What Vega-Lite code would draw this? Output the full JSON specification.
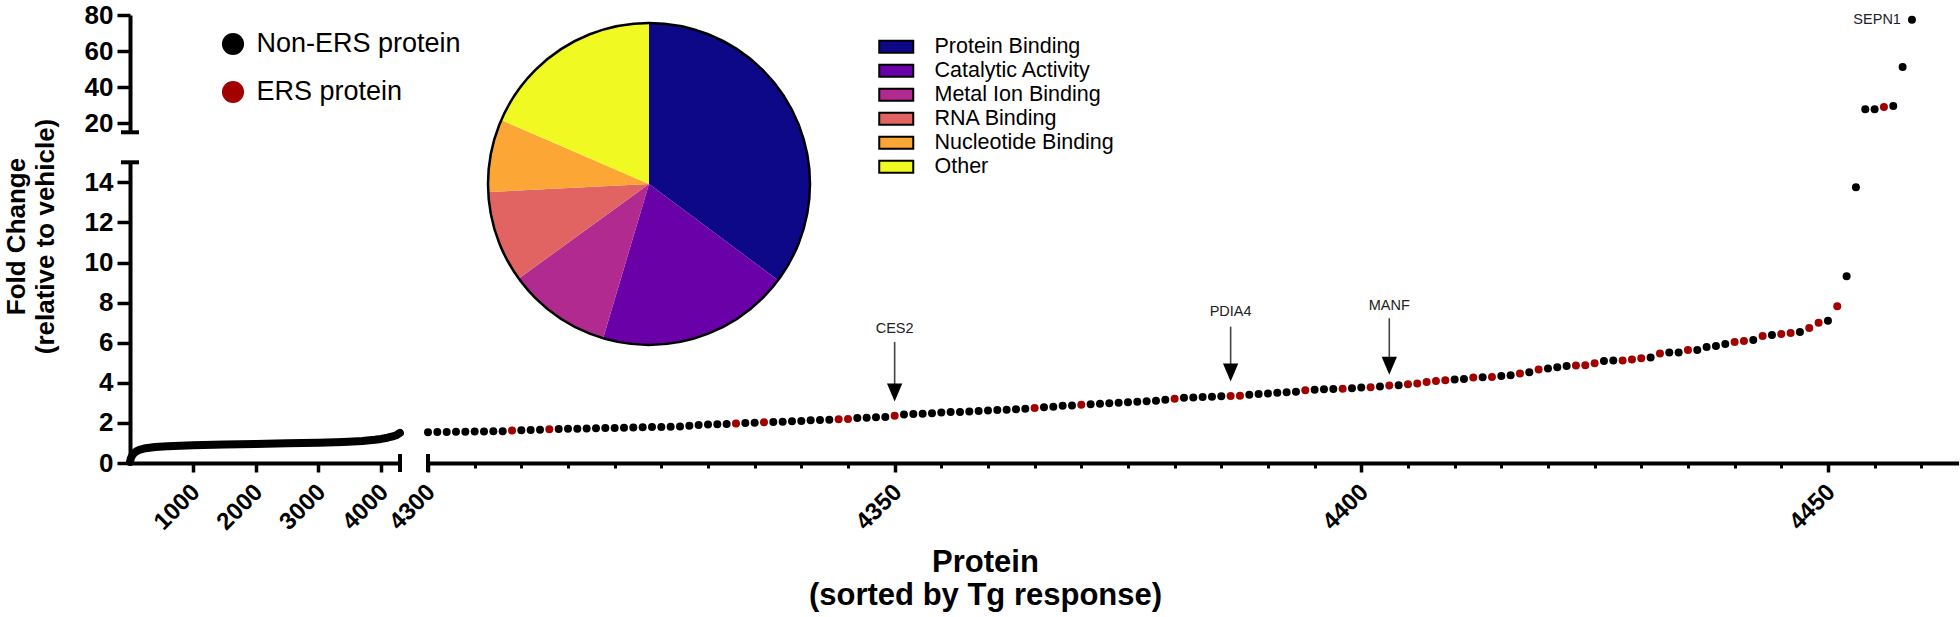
{
  "$schema": "https://vega.github.io/schema/vega-lite/v6.json",
  "width": 1828,
  "height": 453,
  "autosize": {"type": "none"},
  "padding": {"left": 130, "top": 10, "right": 2, "bottom": 154},
  "config": {
    "view": {"stroke": null},
    "font": "Liberation Sans",
    "axis": {
      "grid": false,
      "labelFont": "Liberation Sans",
      "labelFontWeight": "bold",
      "labelFontSize": 26,
      "labelColor": "black",
      "tickColor": "black",
      "domainColor": "black",
      "domainWidth": 4,
      "tickWidth": 3.5,
      "titleFont": "Liberation Sans",
      "titleFontWeight": "bold",
      "titleFontSize": 28,
      "titleColor": "black"
    },
    "legend": {"labelFont": "Liberation Sans", "labelColor": "black", "labelLimit": 0}
  },
  "datasets": {
    "curve": [
      {"idx": 0, "fc": 0.05}, {"idx": 10, "fc": 0.2}, {"idx": 30, "fc": 0.35}, {"idx": 60, "fc": 0.48},
      {"idx": 100, "fc": 0.58}, {"idx": 150, "fc": 0.66}, {"idx": 250, "fc": 0.74}, {"idx": 400, "fc": 0.8},
      {"idx": 600, "fc": 0.84}, {"idx": 1000, "fc": 0.88}, {"idx": 1500, "fc": 0.92}, {"idx": 2000, "fc": 0.95},
      {"idx": 2500, "fc": 0.98}, {"idx": 3000, "fc": 1.01}, {"idx": 3400, "fc": 1.05}, {"idx": 3700, "fc": 1.1},
      {"idx": 3900, "fc": 1.16}, {"idx": 4000, "fc": 1.2}, {"idx": 4100, "fc": 1.26}, {"idx": 4200, "fc": 1.34},
      {"idx": 4250, "fc": 1.4}, {"idx": 4299, "fc": 1.5}
    ],
    "dots": [
      {"idx": 4300, "fc": 1.54, "type": "Non-ERS protein"},
      {"idx": 4301, "fc": 1.55, "type": "Non-ERS protein"},
      {"idx": 4302, "fc": 1.55, "type": "Non-ERS protein"},
      {"idx": 4303, "fc": 1.56, "type": "Non-ERS protein"},
      {"idx": 4304, "fc": 1.56, "type": "Non-ERS protein"},
      {"idx": 4305, "fc": 1.57, "type": "Non-ERS protein"},
      {"idx": 4306, "fc": 1.57, "type": "Non-ERS protein"},
      {"idx": 4307, "fc": 1.58, "type": "Non-ERS protein"},
      {"idx": 4308, "fc": 1.59, "type": "Non-ERS protein"},
      {"idx": 4309, "fc": 1.62, "type": "ERS protein"},
      {"idx": 4310, "fc": 1.63, "type": "Non-ERS protein"},
      {"idx": 4311, "fc": 1.64, "type": "Non-ERS protein"},
      {"idx": 4312, "fc": 1.66, "type": "Non-ERS protein"},
      {"idx": 4313, "fc": 1.68, "type": "ERS protein"},
      {"idx": 4314, "fc": 1.70, "type": "Non-ERS protein"},
      {"idx": 4315, "fc": 1.71, "type": "Non-ERS protein"},
      {"idx": 4316, "fc": 1.71, "type": "Non-ERS protein"},
      {"idx": 4317, "fc": 1.72, "type": "Non-ERS protein"},
      {"idx": 4318, "fc": 1.73, "type": "Non-ERS protein"},
      {"idx": 4319, "fc": 1.74, "type": "Non-ERS protein"},
      {"idx": 4320, "fc": 1.75, "type": "Non-ERS protein"},
      {"idx": 4321, "fc": 1.76, "type": "Non-ERS protein"},
      {"idx": 4322, "fc": 1.77, "type": "Non-ERS protein"},
      {"idx": 4323, "fc": 1.78, "type": "Non-ERS protein"},
      {"idx": 4324, "fc": 1.79, "type": "Non-ERS protein"},
      {"idx": 4325, "fc": 1.80, "type": "Non-ERS protein"},
      {"idx": 4326, "fc": 1.81, "type": "Non-ERS protein"},
      {"idx": 4327, "fc": 1.82, "type": "Non-ERS protein"},
      {"idx": 4328, "fc": 1.86, "type": "Non-ERS protein"},
      {"idx": 4329, "fc": 1.90, "type": "Non-ERS protein"},
      {"idx": 4330, "fc": 1.92, "type": "Non-ERS protein"},
      {"idx": 4331, "fc": 1.93, "type": "Non-ERS protein"},
      {"idx": 4332, "fc": 1.94, "type": "Non-ERS protein"},
      {"idx": 4333, "fc": 1.97, "type": "ERS protein"},
      {"idx": 4334, "fc": 2.00, "type": "Non-ERS protein"},
      {"idx": 4335, "fc": 2.01, "type": "Non-ERS protein"},
      {"idx": 4336, "fc": 2.03, "type": "ERS protein"},
      {"idx": 4337, "fc": 2.05, "type": "Non-ERS protein"},
      {"idx": 4338, "fc": 2.06, "type": "Non-ERS protein"},
      {"idx": 4339, "fc": 2.08, "type": "Non-ERS protein"},
      {"idx": 4340, "fc": 2.10, "type": "Non-ERS protein"},
      {"idx": 4341, "fc": 2.13, "type": "Non-ERS protein"},
      {"idx": 4342, "fc": 2.15, "type": "Non-ERS protein"},
      {"idx": 4343, "fc": 2.16, "type": "Non-ERS protein"},
      {"idx": 4344, "fc": 2.18, "type": "ERS protein"},
      {"idx": 4345, "fc": 2.20, "type": "ERS protein"},
      {"idx": 4346, "fc": 2.24, "type": "Non-ERS protein"},
      {"idx": 4347, "fc": 2.26, "type": "Non-ERS protein"},
      {"idx": 4348, "fc": 2.28, "type": "Non-ERS protein"},
      {"idx": 4349, "fc": 2.30, "type": "Non-ERS protein"},
      {"idx": 4350, "fc": 2.36, "type": "ERS protein"},
      {"idx": 4351, "fc": 2.42, "type": "Non-ERS protein"},
      {"idx": 4352, "fc": 2.44, "type": "Non-ERS protein"},
      {"idx": 4353, "fc": 2.46, "type": "Non-ERS protein"},
      {"idx": 4354, "fc": 2.48, "type": "Non-ERS protein"},
      {"idx": 4355, "fc": 2.52, "type": "Non-ERS protein"},
      {"idx": 4356, "fc": 2.54, "type": "Non-ERS protein"},
      {"idx": 4357, "fc": 2.55, "type": "Non-ERS protein"},
      {"idx": 4358, "fc": 2.57, "type": "Non-ERS protein"},
      {"idx": 4359, "fc": 2.60, "type": "Non-ERS protein"},
      {"idx": 4360, "fc": 2.62, "type": "Non-ERS protein"},
      {"idx": 4361, "fc": 2.64, "type": "Non-ERS protein"},
      {"idx": 4362, "fc": 2.66, "type": "Non-ERS protein"},
      {"idx": 4363, "fc": 2.68, "type": "Non-ERS protein"},
      {"idx": 4364, "fc": 2.70, "type": "Non-ERS protein"},
      {"idx": 4365, "fc": 2.74, "type": "ERS protein"},
      {"idx": 4366, "fc": 2.78, "type": "Non-ERS protein"},
      {"idx": 4367, "fc": 2.80, "type": "Non-ERS protein"},
      {"idx": 4368, "fc": 2.85, "type": "Non-ERS protein"},
      {"idx": 4369, "fc": 2.87, "type": "Non-ERS protein"},
      {"idx": 4370, "fc": 2.90, "type": "ERS protein"},
      {"idx": 4371, "fc": 2.93, "type": "Non-ERS protein"},
      {"idx": 4372, "fc": 2.96, "type": "Non-ERS protein"},
      {"idx": 4373, "fc": 2.98, "type": "Non-ERS protein"},
      {"idx": 4374, "fc": 3.00, "type": "Non-ERS protein"},
      {"idx": 4375, "fc": 3.03, "type": "Non-ERS protein"},
      {"idx": 4376, "fc": 3.05, "type": "Non-ERS protein"},
      {"idx": 4377, "fc": 3.08, "type": "Non-ERS protein"},
      {"idx": 4378, "fc": 3.11, "type": "Non-ERS protein"},
      {"idx": 4379, "fc": 3.15, "type": "Non-ERS protein"},
      {"idx": 4380, "fc": 3.21, "type": "ERS protein"},
      {"idx": 4381, "fc": 3.25, "type": "Non-ERS protein"},
      {"idx": 4382, "fc": 3.27, "type": "Non-ERS protein"},
      {"idx": 4383, "fc": 3.29, "type": "Non-ERS protein"},
      {"idx": 4384, "fc": 3.31, "type": "Non-ERS protein"},
      {"idx": 4385, "fc": 3.33, "type": "Non-ERS protein"},
      {"idx": 4386, "fc": 3.34, "type": "ERS protein"},
      {"idx": 4387, "fc": 3.35, "type": "ERS protein"},
      {"idx": 4388, "fc": 3.41, "type": "Non-ERS protein"},
      {"idx": 4389, "fc": 3.44, "type": "Non-ERS protein"},
      {"idx": 4390, "fc": 3.47, "type": "Non-ERS protein"},
      {"idx": 4391, "fc": 3.50, "type": "Non-ERS protein"},
      {"idx": 4392, "fc": 3.53, "type": "Non-ERS protein"},
      {"idx": 4393, "fc": 3.56, "type": "Non-ERS protein"},
      {"idx": 4394, "fc": 3.63, "type": "ERS protein"},
      {"idx": 4395, "fc": 3.66, "type": "Non-ERS protein"},
      {"idx": 4396, "fc": 3.68, "type": "Non-ERS protein"},
      {"idx": 4397, "fc": 3.69, "type": "Non-ERS protein"},
      {"idx": 4398, "fc": 3.70, "type": "ERS protein"},
      {"idx": 4399, "fc": 3.73, "type": "Non-ERS protein"},
      {"idx": 4400, "fc": 3.76, "type": "Non-ERS protein"},
      {"idx": 4401, "fc": 3.78, "type": "ERS protein"},
      {"idx": 4402, "fc": 3.81, "type": "Non-ERS protein"},
      {"idx": 4403, "fc": 3.86, "type": "ERS protein"},
      {"idx": 4404, "fc": 3.88, "type": "Non-ERS protein"},
      {"idx": 4405, "fc": 3.93, "type": "ERS protein"},
      {"idx": 4406, "fc": 3.96, "type": "ERS protein"},
      {"idx": 4407, "fc": 4.04, "type": "ERS protein"},
      {"idx": 4408, "fc": 4.09, "type": "ERS protein"},
      {"idx": 4409, "fc": 4.13, "type": "ERS protein"},
      {"idx": 4410, "fc": 4.16, "type": "Non-ERS protein"},
      {"idx": 4411, "fc": 4.19, "type": "Non-ERS protein"},
      {"idx": 4412, "fc": 4.26, "type": "ERS protein"},
      {"idx": 4413, "fc": 4.28, "type": "Non-ERS protein"},
      {"idx": 4414, "fc": 4.29, "type": "ERS protein"},
      {"idx": 4415, "fc": 4.34, "type": "Non-ERS protein"},
      {"idx": 4416, "fc": 4.38, "type": "Non-ERS protein"},
      {"idx": 4417, "fc": 4.46, "type": "ERS protein"},
      {"idx": 4418, "fc": 4.53, "type": "Non-ERS protein"},
      {"idx": 4419, "fc": 4.66, "type": "ERS protein"},
      {"idx": 4420, "fc": 4.71, "type": "Non-ERS protein"},
      {"idx": 4421, "fc": 4.78, "type": "Non-ERS protein"},
      {"idx": 4422, "fc": 4.84, "type": "Non-ERS protein"},
      {"idx": 4423, "fc": 4.86, "type": "ERS protein"},
      {"idx": 4424, "fc": 4.88, "type": "ERS protein"},
      {"idx": 4425, "fc": 4.98, "type": "ERS protein"},
      {"idx": 4426, "fc": 5.09, "type": "Non-ERS protein"},
      {"idx": 4427, "fc": 5.11, "type": "Non-ERS protein"},
      {"idx": 4428, "fc": 5.11, "type": "ERS protein"},
      {"idx": 4429, "fc": 5.16, "type": "ERS protein"},
      {"idx": 4430, "fc": 5.23, "type": "ERS protein"},
      {"idx": 4431, "fc": 5.26, "type": "Non-ERS protein"},
      {"idx": 4432, "fc": 5.46, "type": "ERS protein"},
      {"idx": 4433, "fc": 5.51, "type": "Non-ERS protein"},
      {"idx": 4434, "fc": 5.51, "type": "Non-ERS protein"},
      {"idx": 4435, "fc": 5.64, "type": "ERS protein"},
      {"idx": 4436, "fc": 5.64, "type": "Non-ERS protein"},
      {"idx": 4437, "fc": 5.79, "type": "Non-ERS protein"},
      {"idx": 4438, "fc": 5.84, "type": "Non-ERS protein"},
      {"idx": 4439, "fc": 5.93, "type": "Non-ERS protein"},
      {"idx": 4440, "fc": 6.04, "type": "ERS protein"},
      {"idx": 4441, "fc": 6.09, "type": "ERS protein"},
      {"idx": 4442, "fc": 6.13, "type": "Non-ERS protein"},
      {"idx": 4443, "fc": 6.33, "type": "ERS protein"},
      {"idx": 4444, "fc": 6.38, "type": "Non-ERS protein"},
      {"idx": 4445, "fc": 6.43, "type": "ERS protein"},
      {"idx": 4446, "fc": 6.49, "type": "ERS protein"},
      {"idx": 4447, "fc": 6.53, "type": "Non-ERS protein"},
      {"idx": 4448, "fc": 6.74, "type": "ERS protein"},
      {"idx": 4449, "fc": 6.99, "type": "ERS protein"},
      {"idx": 4450, "fc": 7.09, "type": "Non-ERS protein"},
      {"idx": 4451, "fc": 7.82, "type": "ERS protein"},
      {"idx": 4452, "fc": 9.32, "type": "Non-ERS protein"},
      {"idx": 4453, "fc": 13.76, "type": "Non-ERS protein"},
      {"idx": 4454, "fc": 27.8, "type": "Non-ERS protein"},
      {"idx": 4455, "fc": 27.8, "type": "Non-ERS protein"},
      {"idx": 4456, "fc": 29.0, "type": "ERS protein"},
      {"idx": 4457, "fc": 29.6, "type": "Non-ERS protein"},
      {"idx": 4458, "fc": 51.2, "type": "Non-ERS protein"},
      {"idx": 4459, "fc": 77.4, "type": "Non-ERS protein"}
    ],
    "pie": [
      {"cat": "Protein Binding", "pct": 35.2, "ord": 1},
      {"cat": "Catalytic Activity", "pct": 19.4, "ord": 2},
      {"cat": "Metal Ion Binding", "pct": 10.4, "ord": 3},
      {"cat": "RNA Binding", "pct": 9.2, "ord": 4},
      {"cat": "Nucleotide Binding", "pct": 7.3, "ord": 5},
      {"cat": "Other", "pct": 18.5, "ord": 6}
    ],
    "notes": [
      {"label": "CES2", "idx": 4350, "textY": 6.68, "top": 6.04, "bot": 3.89, "head": 3.52},
      {"label": "PDIA4", "idx": 4386, "textY": 7.55, "top": 6.8, "bot": 4.89, "head": 4.51},
      {"label": "MANF", "idx": 4403, "textY": 7.83, "top": 7.22, "bot": 5.22, "head": 4.85}
    ],
    "toplabel": [
      {"label": "SEPN1", "idx": 4459, "fc": 77.4}
    ]
  },
  "layer": [
    {
      "data": {"name": "curve"},
      "mark": {"type": "line", "color": "black", "strokeWidth": 8, "strokeCap": "round", "strokeJoin": "round"},
      "encoding": {
        "x": {"field": "idx", "type": "quantitative",
          "scale": {"domain": [0, 4300], "range": [0, 270], "nice": false, "zero": false},
          "axis": {"orient": "bottom", "values": [1000, 2000, 3000, 4000], "format": "d", "tickSize": 9,
            "labelFontSize": 24, "labelAngle": -45, "labelAlign": "right", "labelBaseline": "middle", "labelPadding": 16, "labelOffset": 3, "title": null}},
        "y": {"field": "fc", "type": "quantitative",
          "scale": {"domain": [0, 15], "range": [453, 152.3], "nice": false, "zero": false},
          "axis": {"orient": "left", "values": [0, 2, 4, 6, 8, 10, 12, 14], "tickSize": 13, "labelPadding": 4,
            "title": ["Fold Change", "(relative to vehicle)"], "titleFontSize": 26, "titleX": -127, "titleY": 226, "titleAngle": 270,
            "titleBaseline": "top", "titleAlign": "center", "titleAnchor": null, "titleLineHeight": 29}}
      }
    },
    {
      "data": {"name": "dots"},
      "transform": [{"filter": "datum.fc <= 15"}],
      "mark": {"type": "circle", "size": 64, "opacity": 1},
      "encoding": {
        "x": {"field": "idx", "type": "quantitative",
          "scale": {"domain": [4300, 4464], "range": [298, 1828.6], "nice": false, "zero": false},
          "axis": {"orient": "bottom", "values": [4300, 4350, 4400, 4450], "format": "d", "tickSize": 9,
            "labelFontSize": 24, "labelAngle": -45, "labelAlign": "right", "labelBaseline": "middle", "labelPadding": 16, "labelOffset": 3,
            "title": ["Protein", "(sorted by Tg response)"], "titleFontSize": 31, "titleX": 855, "titleY": 108, "titleBaseline": "alphabetic",
            "titleAlign": "center", "titleAnchor": null, "titleLineHeight": 33.3}},
        "y": {"field": "fc", "type": "quantitative",
          "scale": {"domain": [0, 15], "range": [453, 152.3], "nice": false, "zero": false}, "axis": null},
        "color": {"field": "type", "type": "nominal",
          "scale": {"domain": ["Non-ERS protein", "ERS protein"], "range": ["#000000", "#a30000"]},
          "legend": {"orient": "none", "legendX": 89.5, "legendY": 20.5, "title": null, "symbolType": "circle",
            "symbolSize": 490, "symbolStrokeWidth": 0, "labelFontSize": 27, "rowPadding": 20, "labelOffset": 10, "padding": 0, "labelLimit": 0}}
      }
    },
    {
      "data": {"name": "dots"},
      "transform": [{"filter": "datum.fc > 15"}],
      "mark": {"type": "circle", "size": 64, "opacity": 1},
      "encoding": {
        "x": {"field": "idx", "type": "quantitative",
          "scale": {"domain": [4300, 4464], "range": [298, 1828.6], "nice": false, "zero": false},
          "axis": {"orient": "bottom", "values": [4305, 4310, 4315, 4320, 4325, 4330, 4335, 4340, 4345, 4355, 4360, 4365, 4370, 4375, 4380, 4385, 4390, 4395, 4405, 4410, 4415, 4420, 4425, 4430, 4435, 4440, 4445, 4455, 4460],
            "tickSize": 5, "tickWidth": 3, "labels": false, "domain": false, "title": null}},
        "y": {"field": "fc", "type": "quantitative",
          "scale": {"domain": [15, 80], "range": [122.3, 5], "nice": false, "zero": false},
          "axis": {"orient": "left", "values": [20, 40, 60, 80], "tickSize": 13, "labelPadding": 4, "title": null}},
        "color": {"field": "type", "type": "nominal",
          "scale": {"domain": ["Non-ERS protein", "ERS protein"], "range": ["#000000", "#a30000"]},
          "legend": {"orient": "none", "legendX": 89.5, "legendY": 20.5, "title": null, "symbolType": "circle",
            "symbolSize": 490, "symbolStrokeWidth": 0, "labelFontSize": 27, "rowPadding": 20, "labelOffset": 10, "padding": 0, "labelLimit": 0}}
      }
    },
    {
      "data": {"name": "pie"},
      "mark": {"type": "arc", "outerRadius": 161, "strokeWidth": 0},
      "encoding": {
        "theta": {"field": "pct", "type": "quantitative", "stack": true},
        "order": {"field": "ord", "type": "quantitative"},
        "fill": {"field": "cat", "type": "nominal",
          "scale": {"domain": ["Protein Binding", "Catalytic Activity", "Metal Ion Binding", "RNA Binding", "Nucleotide Binding", "Other"],
            "range": ["#0d0887", "#6a00a8", "#b12a90", "#e16462", "#fca636", "#f0f921"]},
          "legend": {"orient": "none", "legendX": 755.5, "legendY": 26, "title": null,
            "symbolType": "M-2,-0.7H2V0.7H-2Z", "symbolSize": 289, "symbolStrokeColor": "black", "symbolStrokeWidth": 2,
            "labelFontSize": 21.5, "rowPadding": 1.0, "labelOffset": 27.5, "padding": 0, "labelLimit": 0}},
        "x": {"datum": 4323.68, "type": "quantitative",
          "scale": {"domain": [4300, 4464], "range": [298, 1828.6], "nice": false, "zero": false}, "axis": null},
        "y": {"datum": 13.92, "type": "quantitative",
          "scale": {"domain": [0, 15], "range": [453, 152.3], "nice": false, "zero": false}, "axis": null}
      }
    },
    {
      "data": {"values": [{}]},
      "mark": {"type": "arc", "outerRadius": 161, "theta": 0, "theta2": 6.2832, "fill": null, "stroke": "black", "strokeWidth": 2.5},
      "encoding": {
        "x": {"datum": 4323.68, "type": "quantitative",
          "scale": {"domain": [4300, 4464], "range": [298, 1828.6], "nice": false, "zero": false}, "axis": null},
        "y": {"datum": 13.92, "type": "quantitative",
          "scale": {"domain": [0, 15], "range": [453, 152.3], "nice": false, "zero": false}, "axis": null}
      }
    },
    {
      "data": {"name": "notes"},
      "mark": {"type": "rule", "color": "#444444", "strokeWidth": 1.6},
      "encoding": {
        "x": {"field": "idx", "type": "quantitative",
          "scale": {"domain": [4300, 4464], "range": [298, 1828.6], "nice": false, "zero": false}, "axis": null},
        "y": {"field": "top", "type": "quantitative",
          "scale": {"domain": [0, 15], "range": [453, 152.3], "nice": false, "zero": false}, "axis": null},
        "y2": {"field": "bot"}
      }
    },
    {
      "data": {"name": "notes"},
      "mark": {"type": "point", "shape": "M0,1L-0.85,-1L0.85,-1Z", "size": 324, "filled": true, "color": "black", "opacity": 1},
      "encoding": {
        "x": {"field": "idx", "type": "quantitative",
          "scale": {"domain": [4300, 4464], "range": [298, 1828.6], "nice": false, "zero": false}, "axis": null},
        "y": {"field": "head", "type": "quantitative",
          "scale": {"domain": [0, 15], "range": [453, 152.3], "nice": false, "zero": false}, "axis": null}
      }
    },
    {
      "data": {"name": "notes"},
      "mark": {"type": "text", "fontSize": 14.5, "font": "Liberation Sans", "color": "#222222", "align": "center", "baseline": "middle"},
      "encoding": {
        "x": {"field": "idx", "type": "quantitative",
          "scale": {"domain": [4300, 4464], "range": [298, 1828.6], "nice": false, "zero": false}, "axis": null},
        "y": {"field": "textY", "type": "quantitative",
          "scale": {"domain": [0, 15], "range": [453, 152.3], "nice": false, "zero": false}, "axis": null},
        "text": {"field": "label"}
      }
    },
    {
      "data": {"name": "toplabel"},
      "mark": {"type": "text", "fontSize": 14.5, "font": "Liberation Sans", "color": "#222222", "align": "right", "baseline": "middle", "dx": -11},
      "encoding": {
        "x": {"field": "idx", "type": "quantitative",
          "scale": {"domain": [4300, 4464], "range": [298, 1828.6], "nice": false, "zero": false}, "axis": null},
        "y": {"field": "fc", "type": "quantitative",
          "scale": {"domain": [15, 80], "range": [122.3, 5], "nice": false, "zero": false}, "axis": null},
        "text": {"field": "label"}
      }
    },
    {
      "data": {"values": [{}]},
      "mark": {"type": "tick", "orient": "horizontal", "size": 18, "thickness": 4, "color": "black", "opacity": 1},
      "encoding": {
        "x": {"datum": 0, "type": "quantitative",
          "scale": {"domain": [0, 4300], "range": [0, 270], "nice": false, "zero": false}, "axis": null},
        "y": {"datum": 15, "type": "quantitative",
          "scale": {"domain": [0, 15], "range": [453, 152.3], "nice": false, "zero": false}, "axis": null}
      }
    },
    {
      "data": {"values": [{}]},
      "mark": {"type": "tick", "orient": "horizontal", "size": 18, "thickness": 4, "color": "black", "opacity": 1},
      "encoding": {
        "x": {"datum": 0, "type": "quantitative",
          "scale": {"domain": [0, 4300], "range": [0, 270], "nice": false, "zero": false}, "axis": null},
        "y": {"datum": 15, "type": "quantitative",
          "scale": {"domain": [15, 80], "range": [122.3, 5], "nice": false, "zero": false}, "axis": null}
      }
    },
    {
      "data": {"values": [{}]},
      "mark": {"type": "tick", "orient": "vertical", "size": 18, "thickness": 4, "color": "black", "opacity": 1},
      "encoding": {
        "x": {"datum": 4300, "type": "quantitative",
          "scale": {"domain": [0, 4300], "range": [0, 270], "nice": false, "zero": false}, "axis": null},
        "y": {"datum": 0, "type": "quantitative",
          "scale": {"domain": [0, 15], "range": [453, 152.3], "nice": false, "zero": false}, "axis": null}
      }
    },
    {
      "data": {"values": [{}]},
      "mark": {"type": "tick", "orient": "vertical", "size": 18, "thickness": 4, "color": "black", "opacity": 1},
      "encoding": {
        "x": {"datum": 4300, "type": "quantitative",
          "scale": {"domain": [4300, 4464], "range": [298, 1828.6], "nice": false, "zero": false}, "axis": null},
        "y": {"datum": 0, "type": "quantitative",
          "scale": {"domain": [0, 15], "range": [453, 152.3], "nice": false, "zero": false}, "axis": null}
      }
    }
  ],
  "resolve": {
    "scale": {"x": "independent", "y": "independent"},
    "axis": {"x": "independent", "y": "independent"}
  }
}
